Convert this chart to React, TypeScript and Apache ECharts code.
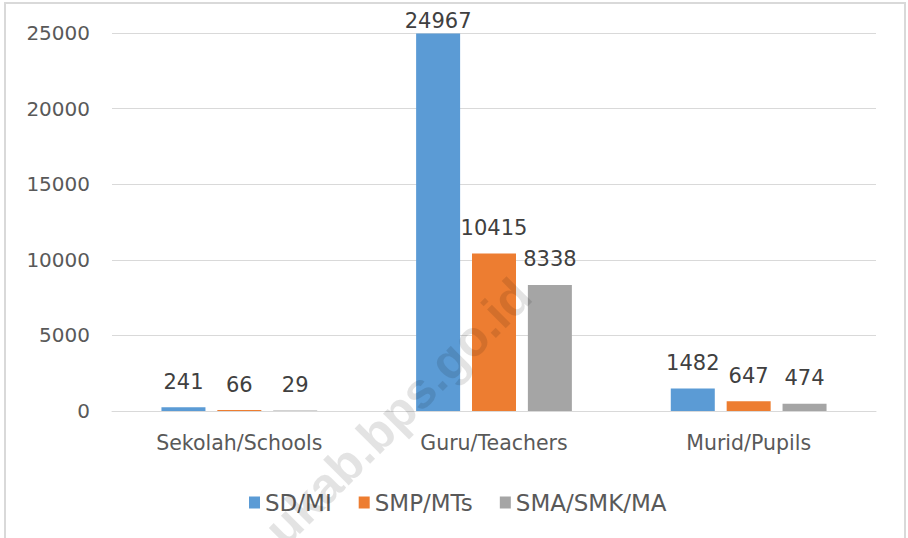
import React, { useEffect, useRef } from "react";
import * as echarts from "echarts";

const categories = ["Sekolah/Schools", "Guru/Teachers", "Murid/Pupils"];
const seriesNames = ["SD/MI", "SMP/MTs", "SMA/SMK/MA"];
const sdMi = [241, 24967, 1482];
const smpMts = [66, 10415, 647];
const smaSmkMa = [29, 8338, 474];
const seriesColors = ["#5B9BD5", "#ED7D31", "#A5A5A5"];
const yMin = 0;
const yMax = 25000;
const yInterval = 5000;
const watermarkText = "ukab.bps.go.id";

const FONT = "DejaVu Sans";

export default function App() {
  const ref = useRef<HTMLDivElement>(null);

  useEffect(() => {
    document.body.style.margin = "0";
    const chart = echarts.init(ref.current!, null, { renderer: "svg" });
    const allSeries = [sdMi, smpMts, smaSmkMa];

    const option: any = {
      animation: false,
      backgroundColor: "#ffffff",
      grid: { left: 112, right: 32, top: 33, bottom: 127, outerBoundsMode: "none" },
      legend: {
        data: seriesNames,
        left: 244,
        top: 486,
        icon: "rect",
        itemWidth: 11,
        itemHeight: 12,
        itemGap: 27,
        textStyle: { fontFamily: FONT, fontSize: 23, color: "#595959" },
      },
      xAxis: {
        type: "category",
        data: categories,
        axisLine: { show: true, lineStyle: { color: "#d9d9d9", width: 1 } },
        axisTick: { show: false },
        axisLabel: { fontFamily: FONT, fontSize: 20.5, color: "#595959", margin: 21 },
      },
      yAxis: {
        type: "value",
        min: yMin,
        max: yMax,
        interval: yInterval,
        axisLine: { show: false },
        axisTick: { show: false },
        splitLine: { lineStyle: { color: "#d9d9d9", width: 1 } },
        axisLabel: {
          fontFamily: FONT,
          fontSize: 20,
          color: "#595959",
          margin: 22,
          formatter: (v: number) => String(v),
        },
      },
      series: allSeries.map((vals, i) => ({
        name: seriesNames[i],
        type: "bar",
        barWidth: 44,
        barGap: "27%",
        itemStyle: { color: seriesColors[i] },
        label: {
          show: true,
          position: "top",
          distance: 15,
          fontFamily: FONT,
          fontSize: 21,
          color: "#404040",
        },
        data: vals.map((v) =>
          v >= yMax * 0.95 ? { value: v, label: { distance: 2 } } : v
        ),
      })),
      graphic: [
        {
          type: "rect",
          shape: { x: 5, y: 3, width: 900, height: 600 },
          style: { fill: "none", stroke: "#d9d9d9", lineWidth: 2 },
          z: 1,
          silent: true,
        },
        {
          type: "text",
          x: 398,
          y: 412,
          rotation: Math.PI / 4,
          z: 100,
          silent: true,
          style: {
            text: watermarkText,
            fontFamily: "Liberation Sans",
            fontWeight: "bold",
            fontSize: 50,
            fill: "rgba(0,0,0,0.11)",
            align: "center",
            verticalAlign: "middle",
          },
        },
      ],
    };
    chart.setOption(option);
    return () => chart.dispose();
  }, []);

  return (
    <div
      ref={ref}
      style={{ position: "fixed", left: 0, top: 0, width: 908, height: 538 }}
    />
  );
}
